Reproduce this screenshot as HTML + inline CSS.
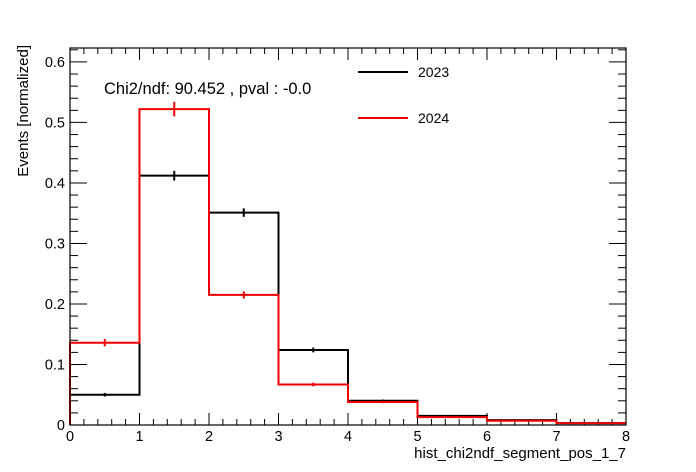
<!DOCTYPE html>
<html><head><meta charset="utf-8"><style>
body{margin:0;background:#fff;}
svg{display:block;font-family:"Liberation Sans",Arial,sans-serif;}
</style></head><body>
<svg id="c" width="696" height="472">
<rect x="0" y="0" width="696" height="472" fill="#fff"/>
<g id="ticks"></g>
<g id="series"></g>
<rect x="70" y="48" width="556" height="377" fill="none" stroke="#000" stroke-width="1.2"/>
<text x="104" y="94" font-size="16.5">Chi2/ndf: 90.452 , pval : -0.0</text>
<line x1="358" y1="72" x2="408" y2="72" stroke="#000" stroke-width="2"/>
<text x="418" y="77" font-size="14">2023</text>
<line x1="358" y1="118" x2="408" y2="118" stroke="#e00" stroke-width="2"/>
<text x="418" y="123" font-size="14">2024</text>
<text x="626" y="458" font-size="15" text-anchor="end">hist_chi2ndf_segment_pos_1_7</text>
<text transform="translate(28,45) rotate(-90)" font-size="15" text-anchor="end">Events [normalized]</text>
</svg>
<script>
const binEdges=[0,1,2,3,4,5,6,7,8];
const values2023=[0.050,0.412,0.351,0.124,0.040,0.015,0.008,0.003];
const errors2023=[0.003,0.008,0.007,0.004,0.002,0.001,0.001,0.001];
const values2024=[0.136,0.522,0.215,0.067,0.038,0.013,0.007,0.003];
const errors2024=[0.006,0.012,0.006,0.003,0.002,0.001,0.001,0.001];
const xTicks=[0,1,2,3,4,5,6,7,8];
const yTicks=[0,0.1,0.2,0.3,0.4,0.5,0.6];
const X0=70,X1=626,Y0=425,Y1=48,xmax=8,ymax=0.623;
const sx=v=>X0+(X1-X0)*v/xmax;
const sy=v=>Y0-(Y0-Y1)*v/ymax;
const NS="http://www.w3.org/2000/svg";
function mk(tag,attrs,parent){const e=document.createElementNS(NS,tag);for(const k in attrs)e.setAttribute(k,attrs[k]);parent.appendChild(e);return e;}
const tg=document.getElementById('ticks');
for(let i=0;i<=40;i++){const v=i*0.2;const x=sx(v);const major=i%5===0;const L=major?12:6;
 mk('line',{x1:x,y1:Y0,x2:x,y2:Y0-L,stroke:'#000','stroke-width':1},tg);
 mk('line',{x1:x,y1:Y1,x2:x,y2:Y1+L,stroke:'#000','stroke-width':1},tg);}
xTicks.forEach(v=>{const t=mk('text',{x:sx(v),y:441,'font-size':14.5,'text-anchor':'middle'},tg);t.textContent=String(v);

});
for(let i=0;i<=31;i++){const v=i*0.02;if(v>ymax)break;const y=sy(v);const major=i%5===0;const L=major?17:8;
 mk('line',{x1:X0,y1:y,x2:X0+L,y2:y,stroke:'#000','stroke-width':1},tg);
 mk('line',{x1:X1,y1:y,x2:X1-L,y2:y,stroke:'#000','stroke-width':1},tg);}
yTicks.forEach(v=>{const t=mk('text',{x:65,y:sy(v)+5,'font-size':14.5,'text-anchor':'end'},tg);t.textContent=v===0?'0':v.toFixed(1);

});
const sg=document.getElementById('series');
function hist(vals,errs,color,name){
 let d=`M${sx(binEdges[0])},${sy(0)}`;
 vals.forEach((v,i)=>{d+=` L${sx(binEdges[i])},${sy(v)} L${sx(binEdges[i+1])},${sy(v)}`;});
 const p=mk('path',{d:d,fill:'none',stroke:color,'stroke-width':2},sg);
 
 
 vals.forEach((v,i)=>{const xc=sx((binEdges[i]+binEdges[i+1])/2);
  const e=mk('line',{x1:xc,y1:sy(v+errs[i]),x2:xc,y2:sy(v-errs[i]),stroke:color,'stroke-width':2},sg);
  
  });
}
hist(values2023,errors2023,'#000','series-2023');
hist(values2024,errors2024,'#e00','series-2024');
</script>
</body></html>
